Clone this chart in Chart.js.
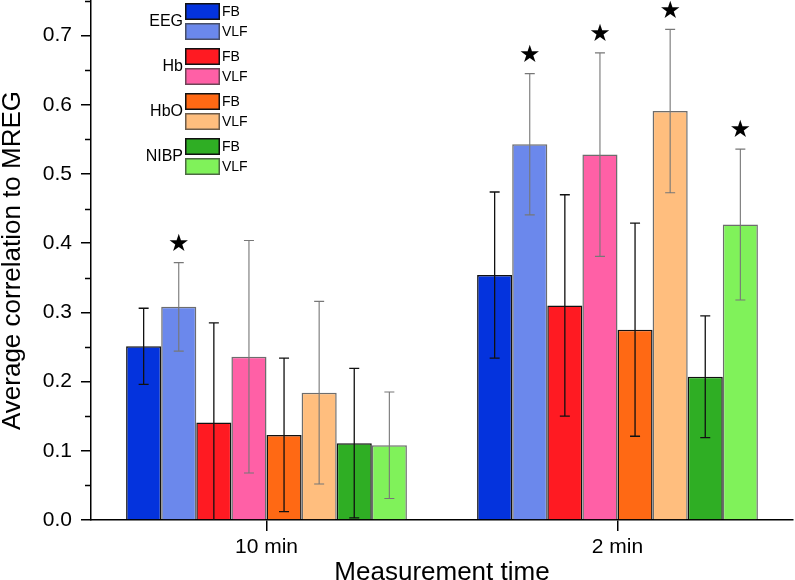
<!DOCTYPE html>
<html><head><meta charset="utf-8">
<script src="https://cdn.jsdelivr.net/npm/chart.js@4"></script>
<style>html,body{margin:0;padding:0;background:#fff;overflow:hidden}#wrap{width:795px;height:580px;position:relative}</style>
</head><body><div id="wrap"><canvas id="c"></canvas></div>
<script>
const categories = ['10 min', '2 min'];
const yTicks = [0, 0.1, 0.2, 0.3, 0.4, 0.5, 0.6, 0.7];
const groupNames = ['EEG', 'Hb', 'HbO', 'NIBP'];
const bandNames = ['FB', 'VLF'];

const eegFB   = [0.251, 0.354];
const eegVLF  = [0.308, 0.543];
const hbFB    = [0.141, 0.310];
const hbVLF   = [0.236, 0.528];
const hboFB   = [0.123, 0.275];
const hboVLF  = [0.184, 0.591];
const nibpFB  = [0.111, 0.207];
const nibpVLF = [0.108, 0.427];

const eegFBsd   = [0.055, 0.120];
const eegVLFsd  = [0.064, 0.102];
const hbFBsd    = [0.144, 0.160];
const hbVLFsd   = [0.168, 0.147];
const hboFBsd   = [0.111, 0.154];
const hboVLFsd  = [0.132, 0.118];
const nibpFBsd  = [0.108, 0.088];
const nibpVLFsd = [0.077, 0.109];

const eegFBsig   = [false, false];
const eegVLFsig  = [true, true];
const hbFBsig    = [false, false];
const hbVLFsig   = [false, true];
const hboFBsig   = [false, false];
const hboVLFsig  = [false, true];
const nibpFBsig  = [false, false];
const nibpVLFsig = [false, true];

const means = [eegFB, eegVLF, hbFB, hbVLF, hboFB, hboVLF, nibpFB, nibpVLF];
const sds = [eegFBsd, eegVLFsd, hbFBsd, hbVLFsd, hboFBsd, hboVLFsd, nibpFBsd, nibpVLFsd];
const sigs = [eegFBsig, eegVLFsig, hbFBsig, hbVLFsig, hboFBsig, hboVLFsig, nibpFBsig, nibpVLFsig];
const fills = ['#0433DD', '#6B88EC', '#FF1A22', '#FF60A6', '#FF6914', '#FFBE7E', '#2FAE24', '#80F25A'];
const FONT = '"Liberation Sans", Arial, sans-serif';

const datasets = means.map((m, i) => ({
  label: groupNames[Math.floor(i / 2)] + ' ' + bandNames[i % 2],
  data: m,
  backgroundColor: fills[i],
  borderColor: i % 2 === 0 ? '#111' : 'rgba(60,60,60,0.75)',
  borderWidth: 1.5,
  categoryPercentage: 0.8,
  barPercentage: 1.0
}));

const extras = {
  id: 'extras',
  afterDatasetsDraw(chart) {
    const ctx = chart.ctx, ys = chart.scales.y, ca = chart.chartArea;
    ctx.save();
    ctx.beginPath();
    ctx.rect(ca.left, ca.top - 40, ca.right - ca.left, ca.bottom - ca.top + 40);
    ctx.clip();
    means.forEach((m, i) => {
      const meta = chart.getDatasetMeta(i);
      meta.data.forEach((el, j) => {
        const x = el.x;
        const hi = ys.getPixelForValue(m[j] + sds[i][j]);
        const lo = Math.min(ys.getPixelForValue(m[j] - sds[i][j]), ca.bottom);
        ctx.strokeStyle = i % 2 === 0 ? '#111' : '#777';
        ctx.lineWidth = i % 2 === 0 ? 1.3 : 1.1;
        ctx.beginPath();
        ctx.moveTo(x, hi); ctx.lineTo(x, lo);
        ctx.moveTo(x - 5, hi); ctx.lineTo(x + 5, hi);
        if (m[j] - sds[i][j] >= 0) { ctx.moveTo(x - 5, lo); ctx.lineTo(x + 5, lo); }
        ctx.stroke();
        if (sigs[i][j]) {
          ctx.fillStyle = '#000';
          ctx.font = '24px "DejaVu Sans", sans-serif';
          ctx.textAlign = 'center';
          ctx.textBaseline = 'middle';
          ctx.fillText('\u2605', x, hi - 18);
        }
      });
    });
    ctx.restore();
    // minor ticks on y axis
    ctx.save();
    ctx.strokeStyle = '#000';
    ctx.lineWidth = 1.5;
    ctx.beginPath();
    for (let k = 0; k < yTicks.length; k++) {
      const v = yTicks[k] + 0.05;
      const py = Math.round(ys.getPixelForValue(v)) + 0.5;
      ctx.moveTo(ca.left - 6, py); ctx.lineTo(ca.left, py);
    }
    ctx.stroke();
    ctx.restore();
  },
  afterDraw(chart) {
    const ctx = chart.ctx;
    ctx.save();
    const bx = 185, bw = 35, bh = 17;
    groupNames.forEach((g, gi) => {
      const top = 3 + gi * 45;
      for (let b = 0; b < 2; b++) {
        const idx = gi * 2 + b;
        const y = top + b * 20;
        ctx.fillStyle = fills[idx];
        ctx.fillRect(bx, y, bw, bh);
        ctx.strokeStyle = b === 0 ? '#111' : 'rgba(60,60,60,0.75)';
        ctx.lineWidth = 1.5;
        ctx.strokeRect(bx + 0.75, y + 0.75, bw - 1.5, bh - 1.5);
        ctx.fillStyle = '#000';
        ctx.font = '14px ' + FONT;
        ctx.textAlign = 'left';
        ctx.textBaseline = 'middle';
        ctx.fillText(bandNames[b], bx + bw + 2, y + bh / 2 + 1);
      }
      ctx.font = '16px ' + FONT;
      ctx.textAlign = 'right';
      ctx.textBaseline = 'middle';
      ctx.fillText(g, bx - 2, top + 19);
    });
    ctx.restore();
  }
};

new Chart(document.getElementById('c'), {
  type: 'bar',
  data: { labels: categories, datasets },
  options: {
    responsive: true,
    maintainAspectRatio: false,
    animation: false,
    layout: { padding: { top: 1, right: 2, left: 0, bottom: 0 } },
    plugins: { legend: { display: false }, tooltip: { enabled: false } },
    scales: {
      x: {
        offset: true,
        grid: { display: true, drawOnChartArea: false, offset: false, tickLength: 11, color: '#000', lineWidth: 1.5 },
        border: { color: '#000', width: 1.5 },
        ticks: { color: '#000', font: { family: FONT, size: 21 }, padding: 4, maxRotation: 0 },
        title: { display: true, text: 'Measurement time', color: '#000', font: { family: FONT, size: 26 }, padding: { top: 0, bottom: -8 } },
        afterFit(s) { s.height = 60; s.paddingLeft = 0; s.paddingRight = 0; }
      },
      y: {
        min: 0, max: 0.75,
        afterBuildTicks(s) { s.ticks = yTicks.map(v => ({ value: v })); },
        grid: { display: true, drawOnChartArea: false, tickLength: 10, color: '#000', lineWidth: 1.5 },
        border: { color: '#000', width: 1.5 },
        ticks: { color: '#000', font: { family: FONT, size: 21 }, padding: 9, callback: v => Number(v).toFixed(1) },
        title: { display: true, text: 'Average correlation to MREG', color: '#000', font: { family: FONT, size: 26 }, padding: { top: -3, bottom: 0 } },
        afterFit(s) { s.width = 91; s.paddingTop = 0; s.paddingBottom = 0; }
      }
    }
  },
  plugins: [extras]
});
</script>
</body></html>
